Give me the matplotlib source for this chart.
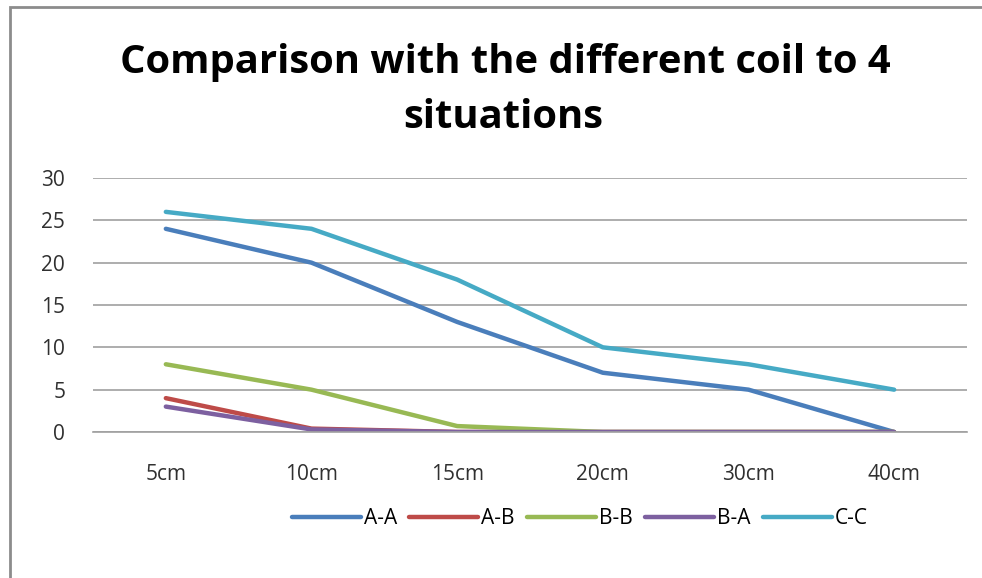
import matplotlib
matplotlib.use("Agg")
import matplotlib.pyplot as plt
from matplotlib.patches import Rectangle

plt.rcParams.update({"font.family": ["Open Sans", "DejaVu Sans"], "figure.facecolor": "white"})

distances = ["5cm", "10cm", "15cm", "20cm", "30cm", "40cm"]
series_names = ["A-A", "A-B", "B-B", "B-A", "C-C"]
aa = [24, 20, 13, 7, 5, 0]
ab = [4, 0.4, 0, 0, 0, 0]
bb = [8, 5, 0.7, 0, 0, 0]
ba = [3, 0.3, 0, 0, 0, 0]
cc = [26, 24, 18, 10, 8, 5]
colors = ["#4a7ebb", "#be4b48", "#98b954", "#7d60a0", "#46aac5"]

fig = plt.figure(figsize=(9.82, 5.78), dpi=100)
ax = fig.add_axes([93 / 982, 1 - 432 / 578, (967 - 93) / 982, (432 - 178) / 578])

x = list(range(len(distances)))
for vals, name, col in zip([aa, ab, bb, ba, cc], series_names, colors):
    ax.plot(x, vals, color=col, linewidth=3.2, label=name, solid_capstyle="round", solid_joinstyle="round")

ax.set_xlim(-0.5, len(distances) - 0.5)
ax.set_ylim(0, 30)
ax.set_yticks(range(0, 31, 5))
ax.set_xticks(x)
ax.set_xticklabels(distances)
ax.yaxis.grid(True, color="#a0a0a0", linewidth=1.2)
ax.set_axisbelow(True)
for s in ["top", "right", "left"]:
    ax.spines[s].set_visible(False)
ax.spines["bottom"].set_color("#a0a0a0")
ax.spines["bottom"].set_linewidth(1.2)
ax.tick_params(axis="both", length=0, labelsize=15, colors="#303030")
ax.tick_params(axis="x", pad=23)
ax.tick_params(axis="y", pad=20)

fig.text(505 / 982, 1 - 62 / 578, "Comparison with the different coil to 4", ha="center", va="center",
         fontsize=28.8, fontweight="bold")
fig.text(503 / 982, 1 - 118 / 578, "situations", ha="center", va="center", fontsize=28.8, fontweight="bold")

leg = fig.legend(loc="center", bbox_to_anchor=(580 / 982, 1 - 519 / 578), ncol=5, frameon=False,
                 fontsize=15, handlelength=3.3, columnspacing=0.6, handletextpad=0.15)

# outer chart frame, runs off the right and bottom edges
fig.patches.append(Rectangle((10 / 982, -0.1), 1.2, 1 - 7 / 578 + 0.1, transform=fig.transFigure,
                             fill=False, edgecolor="#8c8c8c", linewidth=2))

fig.savefig("out.png", dpi=100)
